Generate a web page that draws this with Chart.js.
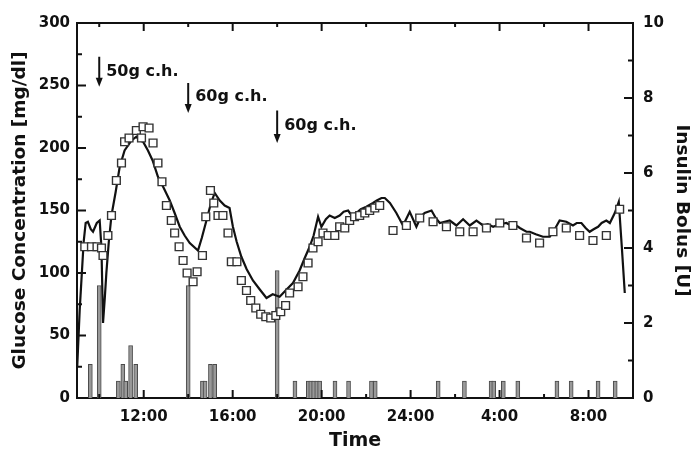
<!DOCTYPE html>
<html>
<head>
<meta charset="utf-8">
<script src="https://cdn.jsdelivr.net/npm/chart.js@4.4.0/dist/chart.umd.min.js"></script>
<style>
  body { margin: 0; background: #fff; }
  #wrap { width: 694px; height: 453px; }
</style>
</head>
<body>
<div id="wrap"><canvas id="myChart"></canvas></div>
<script>
// time in hours from midnight of day 1 (24 = midnight, 32 = 8:00 next day)
var cgmTime = [9.01,9.12,9.30,9.39,9.49,9.62,9.72,9.89,10.02,10.10,
  10.17,10.25,10.32,10.43,10.55,10.74,10.92,11.14,11.45,11.67,
  11.82,11.97,12.19,12.40,12.64,12.90,13.17,13.39,13.62,13.84,
  14.07,14.44,14.61,14.82,15.01,15.19,15.42,15.64,15.86,16.01,
  16.18,16.39,16.63,16.91,17.21,17.52,17.80,18.11,18.38,18.71,
  19.01,19.24,19.46,19.64,19.84,19.99,20.19,20.36,20.59,20.81,
  20.99,21.19,21.35,21.56,21.76,22.01,22.31,22.48,22.69,22.84,
  23.07,23.36,23.66,23.96,24.26,24.46,24.63,24.94,25.13,25.31,
  25.53,25.76,26.06,26.36,26.66,26.96,27.26,27.47,27.71,28.01,
  28.31,28.50,28.76,28.91,29.21,29.36,29.63,29.95,30.26,30.48,
  30.70,31.00,31.30,31.47,31.68,31.87,32.05,32.23,32.43,32.59,
  32.80,32.96,33.18,33.36,33.50,33.63];
var cgmGlucose = [25,70,125,140,141,135,133,140,142,120,
  60,80,100,125,146,165,185,198,206,209,
  206,205,198,190,177,168,158,148,137,130,
  124,118,128,142,155,164,158,154,152,137,
  125,113,103,94,87,80,83,81,86,92,
  102,112,121,130,145,137,143,146,144,146,
  149,150,146,148,151,153,156,158,160,160,
  156,148,138,149,137,145,148,150,144,140,
  141,142,138,143,138,142,138,139,137,139,
  140,138,138,136,133,133,131,129,129,135,
  142,141,138,140,140,136,133,135,137,140,
  142,140,148,157,120,84];

var refTime = [9.35,9.65,9.90,10.10,10.17,10.39,10.55,10.77,11.00,11.14,
  11.34,11.67,11.90,11.97,12.24,12.42,12.64,12.82,13.02,13.24,
  13.39,13.59,13.77,13.95,14.22,14.40,14.64,14.79,15.00,15.15,
  15.34,15.56,15.79,15.94,16.19,16.39,16.62,16.81,17.04,17.26,
  17.49,17.71,17.94,18.16,18.38,18.56,18.94,19.16,19.39,19.61,
  19.84,20.06,20.29,20.59,20.81,21.04,21.26,21.48,21.71,21.94,
  22.16,22.39,22.61,23.21,23.81,24.41,25.01,25.61,26.21,26.81,
  27.41,28.01,28.60,29.21,29.80,30.40,31.00,31.60,32.20,32.80,
  33.40];
var refGlucose = [121,121,121,120,114,130,146,174,188,205,
  208,214,208,217,216,204,188,173,154,142,
  132,121,110,100,93,101,114,145,166,156,
  146,146,132,109,109,94,86,78,72,67,
  65,64,66,69,74,84,89,97,108,120,
  125,132,130,130,137,136,142,145,146,148,
  150,152,154,134,138,144,141,137,133,133,
  136,140,138,128,124,133,136,130,126,130,
  151];

var bolusTime = [9.60,10.0,10.86,11.06,11.19,11.41,11.64,14.0,14.64,14.76,15.0,15.19,
  18.0,18.80,19.40,19.51,19.64,19.78,19.91,20.60,21.21,22.24,22.41,
  25.24,26.42,27.62,27.74,28.17,28.82,30.58,31.22,32.43,33.20];
var bolusUnits = [0.9,3.0,0.45,0.9,0.45,1.4,0.9,3.0,0.45,0.45,0.9,0.9,
  3.4,0.45,0.45,0.45,0.45,0.45,0.45,0.45,0.45,0.45,0.45,
  0.45,0.45,0.45,0.45,0.45,0.45,0.45,0.45,0.45,0.45];

var tickHours = [12,16,20,24,28,32];
var tickLabels = ['12:00','16:00','20:00','24:00','4:00','8:00'];

var mealTimes = [10,14,18];
var mealText = ['50g c.h.','60g c.h.','60g c.h.'];

function pairs(xs, ys){
  return xs.map(function(x, i){ return {x: x, y: ys[i]}; });
}

var FONT = '"DejaVu Sans", sans-serif';

// inward tick marks on all four sides
var innerTicks = {
  id: 'innerTicks',
  afterDatasetsDraw: function(chart){
    var ctx = chart.ctx, a = chart.chartArea, s = chart.scales;
    ctx.save();
    ctx.strokeStyle = '#111';
    ctx.lineWidth = 2;
    function mark(x1, y1, x2, y2){ ctx.beginPath(); ctx.moveTo(x1, y1); ctx.lineTo(x2, y2); ctx.stroke(); }
    for (var v = 25; v < 300; v += 25){
      var y = s.y.getPixelForValue(v);
      mark(a.left, y, a.left + (v % 50 ? 5 : 9), y);
    }
    for (var u = 1; u < 10; u++){
      var y2 = s.y2.getPixelForValue(u);
      mark(a.right, y2, a.right - (u % 2 ? 5 : 9), y2);
    }
    for (var h = 10; h < 34; h += 2){
      var x = s.x.getPixelForValue(h);
      var len = (h % 4 === 0) ? 8 : 4;
      mark(x, a.bottom, x, a.bottom - len);
      mark(x, a.top, x, a.top + len);
    }
    ctx.restore();
  }
};

// meal arrows with carbohydrate labels
var mealMarks = {
  id: 'mealMarks',
  afterDatasetsDraw: function(chart, args, opts){
    var ctx = chart.ctx, sx = chart.scales.x, sy = chart.scales.y;
    ctx.save();
    ctx.strokeStyle = '#111';
    ctx.fillStyle = '#111';
    ctx.lineWidth = 2;
    ctx.font = 'bold 16px ' + FONT;
    ctx.textBaseline = 'middle';
    mealTimes.forEach(function(t, i){
      var px = sx.getPixelForValue(t);
      var top = sy.getPixelForValue(opts.from[i]);
      var tip = sy.getPixelForValue(opts.to[i]);
      ctx.beginPath(); ctx.moveTo(px, top); ctx.lineTo(px, tip - 6); ctx.stroke();
      ctx.beginPath(); ctx.moveTo(px - 3.5, tip - 9); ctx.lineTo(px + 3.5, tip - 9); ctx.lineTo(px, tip); ctx.closePath(); ctx.fill();
      ctx.fillText(mealText[i], px + 7, sy.getPixelForValue(opts.text[i]));
    });
    ctx.restore();
  }
};

var ctx = document.getElementById('myChart').getContext('2d');

var myChart = new Chart(ctx, {
  type: 'line',
  data: {
    datasets: [
      {
        label: 'CGM',
        data: pairs(cgmTime, cgmGlucose),
        borderColor: '#111',
        borderWidth: 2.2,
        pointRadius: 0,
        tension: 0,
        fill: false,
        yAxisID: 'y',
        order: 2
      },
      {
        label: 'Reference',
        data: pairs(refTime, refGlucose),
        showLine: false,
        pointStyle: 'rect',
        pointRadius: 5.5,
        pointBorderWidth: 1.4,
        pointBorderColor: '#333',
        pointBackgroundColor: '#fff',
        yAxisID: 'y',
        order: 1
      },
      {
        type: 'bar',
        label: 'Insulin',
        data: pairs(bolusTime, bolusUnits),
        backgroundColor: '#999',
        borderColor: '#4a4a4a',
        borderWidth: 1,
        barThickness: 4,
        grouped: false,
        yAxisID: 'y2',
        order: 3
      }
    ]
  },
  options: {
    responsive: true,
    maintainAspectRatio: false,
    animation: false,
    devicePixelRatio: 1,
    layout: { padding: 0 },
    plugins: {
      legend: { display: false },
      tooltip: { enabled: false },
      mealMarks: {
        from: [273, 252, 230],
        to: [249, 228, 204],
        text: [261, 241, 218]
      }
    },
    scales: {
      x: {
        type: 'linear',
        position: 'bottom',
        min: 9, max: 34,
        offset: false,
        afterBuildTicks: function(s){ s.ticks = tickHours.map(function(v){ return {value: v}; }); },
        afterFit: function(s){ s.height = 55; },
        ticks: {
          autoSkip: false, maxRotation: 0, padding: 10,
          color: '#111',
          font: { family: FONT, size: 15, weight: 'bold' },
          callback: function(v, i){ return tickLabels[i]; }
        },
        grid: { display: false, drawTicks: false, offset: false },
        border: { display: true, color: '#111', width: 2 },
        title: {
          display: true, text: 'Time', color: '#111',
          font: { family: FONT, size: 19, weight: 'bold' },
          padding: { top: 0, bottom: 1 }
        }
      },
      x2: {
        type: 'linear',
        position: 'top',
        min: 9, max: 34,
        offset: false,
        afterFit: function(s){ s.height = 23; },
        ticks: { display: false },
        grid: { display: false, drawTicks: false, offset: false },
        border: { display: true, color: '#111', width: 2 }
      },
      y: {
        position: 'left',
        min: 0, max: 300,
        afterFit: function(s){ s.width = 77; },
        ticks: {
          stepSize: 50, padding: 7, color: '#111',
          font: { family: FONT, size: 15, weight: 'bold' }
        },
        grid: { display: false, drawTicks: false },
        border: { display: true, color: '#111', width: 2 },
        title: {
          display: true, text: 'Glucose Concentration [mg/dl]', color: '#111',
          font: { family: FONT, size: 18.5, weight: 'bold' },
          padding: { top: 9, bottom: 0 }
        }
      },
      y2: {
        position: 'right',
        min: 0, max: 10,
        afterFit: function(s){ s.width = 61; },
        ticks: {
          stepSize: 2, padding: 10, color: '#111',
          font: { family: FONT, size: 15, weight: 'bold' }
        },
        grid: { display: false, drawTicks: false },
        border: { display: true, color: '#111', width: 2 },
        title: {
          display: true, text: 'Insulin Bolus [U]', color: '#111',
          font: { family: FONT, size: 18.5, weight: 'bold' },
          padding: { top: 1, bottom: 0 }
        }
      }
    }
  },
  plugins: [innerTicks, mealMarks]
});
</script>
</body>
</html>
